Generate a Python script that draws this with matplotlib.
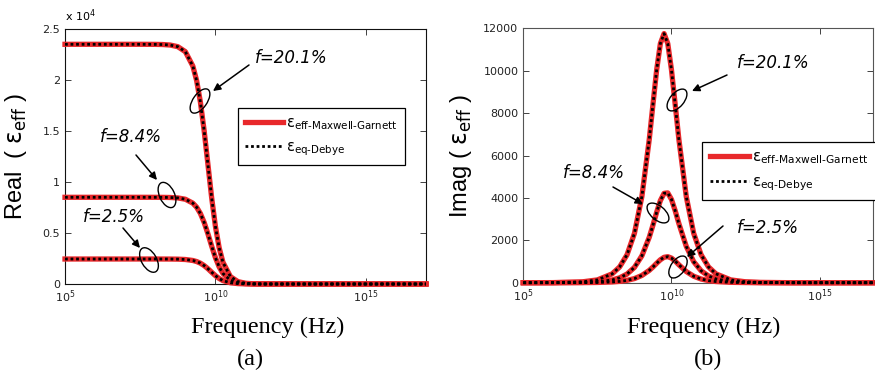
import numpy as np
import matplotlib.pyplot as plt
from matplotlib.patches import Ellipse, FancyArrowPatch
from matplotlib.ticker import NullLocator

plt.rcParams['font.family'] = 'DejaVu Sans'
plt.rcParams['mathtext.fontset'] = 'dejavusans'

# frequency grid (log10 Hz) and curves
log_freq = [5, 6, 7, 7.5, 8, 8.25, 8.5, 8.75, 9, 9.25, 9.375, 9.5, 9.625, 9.75, 9.875,
            10, 10.125, 10.25, 10.5, 10.75, 11, 11.25, 11.5, 12, 12.5, 13, 14, 15, 16, 17]

real_201 = [23500, 23500, 23500, 23500, 23493, 23477, 23426, 23267, 22780, 21364, 19953, 17854,
            15042, 11750, 8459, 5646, 3548, 2136, 720, 233, 74, 23, 7, 1, 0, 0, 0, 0, 0, 0]
real_84 = [8500, 8500, 8500, 8500, 8498, 8494, 8481, 8439, 8310, 7926, 7530, 6916,
           6040, 4929, 3715, 2583, 1675, 1031, 356, 116, 37, 12, 4, 0, 0, 0, 0, 0, 0, 0]
real_25 = [2450, 2450, 2450, 2450, 2450, 2448, 2445, 2435, 2402, 2305, 2203, 2043,
           1808, 1502, 1155, 818, 539, 335, 117, 38, 12, 4, 1, 0, 0, 0, 0, 0, 0, 0]

imag_201 = [0, 4, 42, 132, 418, 743, 1317, 2327, 4054, 6756, 8413, 10039, 11280, 11750, 11280,
            10039, 8413, 6756, 4054, 2327, 1317, 743, 418, 132, 42, 13, 1, 0, 0, 0]
imag_84 = [0, 1, 13, 41, 129, 230, 408, 722, 1264, 2143, 2715, 3325, 3873, 4215, 4236,
           3928, 3397, 2788, 1710, 990, 562, 317, 178, 56, 18, 6, 1, 0, 0, 0]
imag_25 = [0, 0, 3, 11, 35, 62, 110, 194, 341, 581, 741, 916, 1082, 1198, 1228,
           1160, 1019, 845, 525, 305, 173, 98, 55, 17, 6, 2, 0, 0, 0, 0]

freq = 10.0 ** np.array(log_freq)
red = '#e8282b'
mg_label = r'$\mathrm{\varepsilon}_{\text{eff-Maxwell-Garnett}}$'
db_label = r'$\mathrm{\varepsilon}_{\text{eq-Debye}}$'

W, H = 875, 375
fig = plt.figure(figsize=(W / 100, H / 100), dpi=100)
ax1 = fig.add_axes([65 / W, 1 - 284 / H, 361 / W, 255 / H])
ax2 = fig.add_axes([523.3 / W, 1 - 282.7 / H, 349.7 / W, 254.4 / H])


def draw_curves(ax, series):
    for i, vals in enumerate(series):
        ax.plot(freq, vals, color=red, lw=3.8, clip_on=False, zorder=3,
                label=mg_label if i == 0 else None)
        ax.plot(freq, vals, color='k', lw=2, ls=(0, (1, 1)), clip_on=False, zorder=4,
                label=db_label if i == 0 else None)


def style_axes(ax, spine_color):
    ax.set_xscale('log')
    ax.set_xticks([1e5, 1e10, 1e15])
    ax.xaxis.set_minor_locator(NullLocator())
    ax.tick_params(direction='in', top=True, right=True, length=4, width=0.6,
                   labelsize=8, colors='#222222')
    for s in ax.spines.values():
        s.set_color(spine_color)
        s.set_linewidth(0.8)


draw_curves(ax1, [real_201, real_84, real_25])
style_axes(ax1, '#111111')
ax1.set_xlim(1e5, 1e17)
ax1.set_ylim(0, 25000)
ax1.set_yticks(np.arange(0, 25001, 5000))
ax1.set_yticklabels(['0', '0.5', '1', '1.5', '2', '2.5'])
ax1.text(0.0, 1.02, r'x 10$^4$', transform=ax1.transAxes, fontsize=8, va='bottom')
ax1.set_ylabel(r'Real  ( $\mathrm{\varepsilon}_{\mathrm{eff}}$ )', fontsize=17,
               family='Liberation Sans')
ax1.yaxis.set_label_coords(-0.10, 0.5)

draw_curves(ax2, [imag_201, imag_84, imag_25])
style_axes(ax2, '#555555')
ax2.set_xlim(1e5, 10 ** 16.8)
ax2.set_ylim(0, 12000)
ax2.set_yticks(np.arange(0, 12001, 2000))
ax2.set_ylabel(r'Imag ( $\mathrm{\varepsilon}_{\mathrm{eff}}$ )', fontsize=17,
               family='Liberation Sans')
ax2.yaxis.set_label_coords(-0.14, 0.5)

for ax, anchor, fs in [(ax1, (0.479, 0.69), 10.5), (ax2, (0.511, 0.553), 11)]:
    leg = ax.legend(loc='upper left', bbox_to_anchor=anchor, borderaxespad=0,
                    fontsize=fs, handlelength=2.6, handletextpad=0.2,
                    labelspacing=0.5, borderpad=0.5, fancybox=False, framealpha=1)
    leg.get_frame().set_edgecolor('k')
    leg.get_frame().set_linewidth(0.9)


# annotations: label text, arrow, ellipse (pixel positions, y from top)
notes = [
    ('f=20.1%', (255, 58), (249, 65), (213, 91), (200, 101), 28, 14, 55),
    ('f=8.4%', (100, 137), (136, 155), (157, 180), (167, 195), 27, 15, -65),
    ('f=2.5%', (83, 217), (123, 228), (140, 248), (149, 260), 27, 15, -60),
    ('f=20.1%', (737, 63), (727, 75), (692, 91), (677, 100), 26, 14, 50),
    ('f=8.4%', (563, 173), (613, 187), (643, 204), (658, 213), 26, 14, -40),
    ('f=2.5%', (737, 228), (723, 226), (687, 257), (678, 267), 25, 14, 55),
]
to_in = lambda p: (p[0] / 100, (H - p[1]) / 100)
for txt, tpos, a0, a1, ec, ew, eh, ang in notes:
    fig.text(tpos[0] / W, 1 - tpos[1] / H, txt, fontsize=12, style='italic',
             ha='left', va='center')
    fig.add_artist(FancyArrowPatch(to_in(a0), to_in(a1), transform=fig.dpi_scale_trans,
                                   arrowstyle='-|>', color='k', lw=1.1,
                                   mutation_scale=11, shrinkA=0, shrinkB=0, zorder=6))
    fig.add_artist(Ellipse(to_in(ec), ew / 100, eh / 100, angle=ang,
                           transform=fig.dpi_scale_trans, fill=False,
                           ec='k', lw=1.0, zorder=6))

for cx in [268, 704]:
    fig.text(cx / W, 1 - 327 / H, 'Frequency (Hz)', family='Liberation Serif',
             fontsize=17.5, ha='center', va='center')
fig.text(250 / W, 1 - 359 / H, '(a)', family='Liberation Serif', fontsize=17.5,
         ha='center', va='center')
fig.text(708 / W, 1 - 359 / H, '(b)', family='Liberation Serif', fontsize=17.5,
         ha='center', va='center')

fig.savefig('out.png', dpi=100)
